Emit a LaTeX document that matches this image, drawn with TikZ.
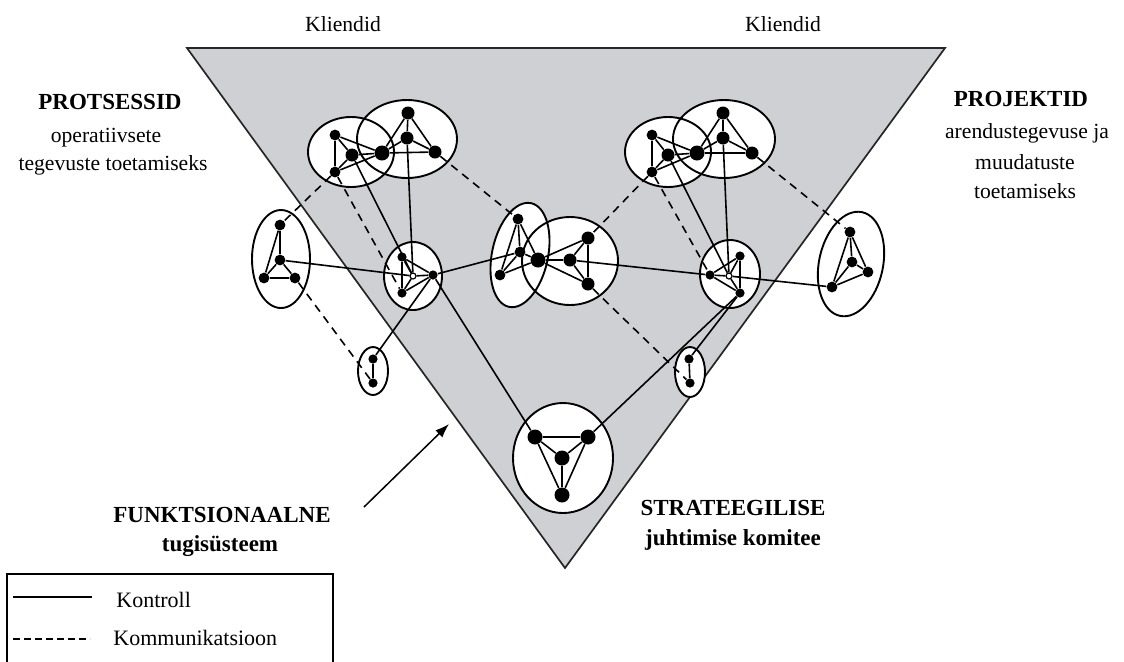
\documentclass[tikz,border=0pt]{standalone}
\usepackage{fontspec}
\setmainfont{Liberation Serif}
\usetikzlibrary{arrows.meta}
\definecolor{tri}{RGB}{207,208,211}
\begin{document}
\begin{tikzpicture}[x=0.5pt,y=-0.5pt,
  dotX/.style={circle,fill=black,inner sep=0pt,minimum size=7.5pt},
  dotL/.style={circle,fill=black,inner sep=0pt,minimum size=6.5pt},
  dotM/.style={circle,fill=black,inner sep=0pt,minimum size=5.4pt},
  dotS/.style={circle,fill=black,inner sep=0pt,minimum size=4.6pt},
  hub/.style={circle,draw=black,fill=white,inner sep=0pt,minimum size=3pt,line width=0.6pt},
  grpfill/.style={fill=white},
  grpline/.style={draw=black,line width=0.95pt},
  ctl/.style={draw=black,line width=0.8pt},
  com/.style={draw=black,line width=0.8pt,dash pattern=on 4pt off 3pt},
  lbl/.style={font=\fontsize{10.8}{13}\selectfont,anchor=base,inner sep=0pt},
  blbl/.style={font=\fontsize{11.5}{14}\selectfont\bfseries,anchor=base,inner sep=0pt},
  leg/.style={font=\fontsize{11}{13}\selectfont,anchor=base west,inner sep=0pt},
]
\useasboundingbox (0,0) rectangle (1124,661);
\clip (0,0) rectangle (1124,661);

% triangle
\filldraw[fill=tri,draw=black!85,line width=0.85pt] (187,48) -- (945,48) -- (565,568) -- cycle;

% group ellipses: fills
\path[grpfill] (351,152) ellipse [x radius=43, y radius=35];
\path[grpfill] (407,139) ellipse [x radius=50, y radius=39];
\path[grpfill] (668,152) ellipse [x radius=43, y radius=35];
\path[grpfill] (724,139) ellipse [x radius=51, y radius=39];
\path[grpfill,rotate around={-12:(520,255)}] (520,255) ellipse [x radius=28, y radius=53];
\path[grpfill] (570,261) ellipse [x radius=48, y radius=44];
% outlines
\path[grpline] (351,152) ellipse [x radius=43, y radius=35];
\path[grpline] (407,139) ellipse [x radius=50, y radius=39];
\path[grpline] (668,152) ellipse [x radius=43, y radius=35];
\path[grpline] (724,139) ellipse [x radius=51, y radius=39];
\path[grpline,rotate around={-12:(520,255)}] (520,255) ellipse [x radius=28, y radius=53];
\path[grpline] (570,261) ellipse [x radius=48, y radius=44];
% single ellipses
\path[grpfill,grpline] (281,259) ellipse [x radius=29, y radius=49];
\path[grpfill,grpline] (413,276) ellipse [x radius=29, y radius=34];
\path[grpfill,grpline] (373,371) ellipse [x radius=15, y radius=24];
\path[grpfill,grpline] (730,274) ellipse [x radius=30, y radius=34];
\path[grpfill,grpline,rotate around={-12:(851,264)}] (851,264) ellipse [x radius=32, y radius=53];
\path[grpfill,grpline] (690,372) ellipse [x radius=15, y radius=25];
\path[grpfill,grpline] (563,458) ellipse [x radius=50, y radius=55];

% nodes
\node[dotM] (a1) at (335,135) {};
\node[dotL] (a2) at (352,155) {};
\node[dotM] (a3) at (335,172) {};
\node[dotX] (a4) at (382,153) {};
\node[dotL] (a5) at (408,113) {};
\node[dotL] (a6) at (407,138) {};
\node[dotL] (a7) at (435,152) {};

\node[dotM] (b1) at (652,135) {};
\node[dotL] (b2) at (668,155) {};
\node[dotM] (b3) at (652,172) {};
\node[dotX] (b4) at (697,153) {};
\node[dotL] (b5) at (723,113) {};
\node[dotL] (b6) at (723,138) {};
\node[dotL] (b7) at (752,153) {};

\node[dotM] (c1) at (280,225) {};
\node[dotM] (c2) at (280,260) {};
\node[dotM] (c3) at (264,278) {};
\node[dotM] (c4) at (295,278) {};

\node[dotS] (d1) at (402,257) {};
\node[dotS] (d2) at (402,293) {};
\node[dotS] (d3) at (433,275) {};
\node[hub] (d0) at (413,276) {};

\node[dotS] (e1) at (373,359) {};
\node[dotS] (e2) at (373,383) {};

\node[dotM] (f1) at (518,219) {};
\node[dotM] (f2) at (520,252) {};
\node[dotM] (f3) at (500,275) {};
\node[dotX] (g0) at (538,260) {};
\node[dotL] (g1) at (588,238) {};
\node[dotL] (g2) at (570,260) {};
\node[dotL] (g3) at (588,284) {};

\node[dotS] (h1) at (740,256) {};
\node[dotS] (h2) at (710,275) {};
\node[dotS] (h3) at (740,293) {};
\node[hub] (h0) at (729,276) {};

\node[dotM] (i1) at (850,232) {};
\node[dotM] (i2) at (852,262) {};
\node[dotM] (i3) at (868,272) {};
\node[dotM] (i4) at (832,287) {};

\node[dotS] (j1) at (689,359) {};
\node[dotS] (j2) at (690,383) {};

\node[dotX] (k1) at (535,437) {};
\node[dotX] (k2) at (588,437) {};
\node[dotX] (k3) at (562,458) {};
\node[dotX] (k4) at (562,495) {};

% internal edges
\draw[ctl] (a1) -- (a3) (a1) -- (a4) (a3) -- (a4) (a2) -- (a1) (a2) -- (a3) (a2) -- (a4)
  (a4) -- (a5) (a4) -- (a7) (a5) -- (a7) (a6) -- (a4) (a6) -- (a7) (a5) -- (a6);
\draw[ctl] (b1) -- (b3) (b1) -- (b4) (b3) -- (b4) (b2) -- (b1) (b2) -- (b3) (b2) -- (b4)
  (b4) -- (b5) (b4) -- (b7) (b5) -- (b7) (b6) -- (b4) (b6) -- (b7) (b5) -- (b6);
\draw[ctl] (c1) -- (c3) (c1) -- (c2) (c2) -- (c3) (c2) -- (c4) (c3) -- (c4);
\draw[ctl] (d1) -- (d2) (d1) -- (d3) (d2) -- (d3) (d0) -- (d1) (d0) -- (d2) (d0) -- (d3);
\draw[ctl] (e1) -- (e2);
\draw[ctl] (f1) -- (f2) (f1) -- (f3) (f2) -- (f3) (f1) -- (g0) (f2) -- (g0) (f3) -- (g0)
  (g0) -- (g1) (g0) -- (g3) (g1) -- (g3) (g2) -- (g0) (g2) -- (g1) (g2) -- (g3);
\draw[ctl] (h1) -- (h2) (h1) -- (h3) (h2) -- (h3) (h0) -- (h1) (h0) -- (h2) (h0) -- (h3);
\draw[ctl] (i1) -- (i2) (i1) -- (i3) (i1) -- (i4) (i2) -- (i3) (i2) -- (i4) (i3) -- (i4);
\draw[ctl] (j1) -- (j2);
\draw[ctl] (k1) -- (k2) (k1) -- (k3) (k1) -- (k4) (k2) -- (k3) (k2) -- (k4) (k3) -- (k4);

% control connectors
\draw[ctl] (a2) -- (d0);
\draw[ctl] (a6) -- (d0);
\draw[ctl] (d3) -- (k1);
\draw[ctl] (d3) -- (e1);
\draw[ctl] (c2) -- (d0);
\draw[ctl] (d3) -- (f2);
\draw[ctl] (g2) -- (h2);
\draw[ctl] (h0) -- (i4);
\draw[ctl] (b2) -- (h0);
\draw[ctl] (b6) -- (h0);
\draw[ctl] (h3) -- (k2);
\draw[ctl] (h3) -- (j1);

% communication connectors
\draw[com] (a3) -- (c1);
\draw[com] (a3) -- (d2);
\draw[com] (a7) -- (f1);
\draw[com] (c4) -- (e2);
\draw[com] (b3) -- (g1);
\draw[com] (b3) -- (h2);
\draw[com] (b7) -- (i1);
\draw[com] (g3) -- (j2);

% labels
\node[lbl] (kl1) at (343,31) {Kliendid};
\node[lbl] (kl2) at (783,31) {Kliendid};
\node[blbl] (pr1) at (110,109) {PROTSESSID};
\node[lbl] (pr2) at (106,142) {operatiivsete};
\node[lbl] (pr3) at (113,170) {tegevuste toetamiseks};
\node[blbl] (pj1) at (1021,106) {PROJEKTID};
\node[lbl] (pj2) at (1027,138) {arendustegevuse ja};
\node[lbl] (pj3) at (1025,169) {muudatuste};
\node[lbl] (pj4) at (1025,198) {toetamiseks};
\node[blbl] (fu1) at (222,522) {FUNKTSIONAALNE};
\node[blbl] (fu2) at (220,551) {tugisüsteem};
\node[blbl] (st1) at (733,515) {STRATEEGILISE};
\node[blbl] (st2) at (733,545) {juhtimise komitee};

% arrow
\coordinate (as) at (364,507);
\coordinate (ae) at (449,424);
\draw[line width=0.75pt,-{Latex[length=7pt,width=5pt]}] (as) -- (ae);

% legend
\draw[line width=0.8pt] (7,670) -- (7,574) -- (333,574) -- (333,670);
\coordinate (ls1) at (13,597);
\coordinate (ls2) at (92,597);
\draw[ctl] (ls1) -- (ls2);
\coordinate (ld1) at (13,639);
\coordinate (ld2) at (90,639);
\draw[line width=0.75pt,dash pattern=on 3.5pt off 2pt] (ld1) -- (ld2);
\node[leg] (lg1) at (116,607) {Kontroll};
\node[leg] (lg2) at (113,645) {Kommunikatsioon};
\end{tikzpicture}
\end{document}
